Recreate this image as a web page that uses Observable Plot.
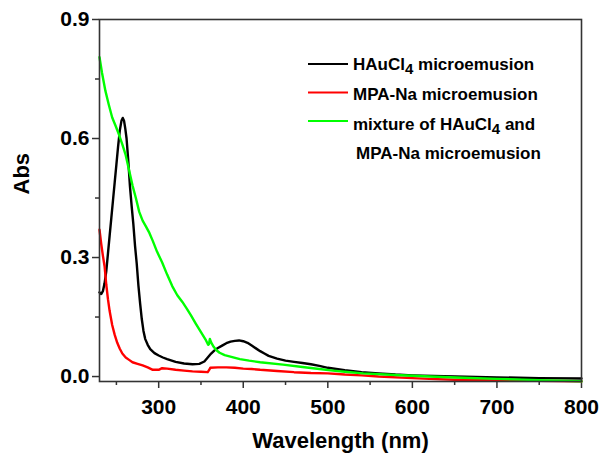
<!DOCTYPE html>
<html><head><meta charset="utf-8">
<script src="https://cdn.jsdelivr.net/npm/d3@7"></script>
<script src="https://cdn.jsdelivr.net/npm/@observablehq/plot@0.6"></script>
<style>body{margin:0;background:#fff}</style>
</head><body><div id="chart"></div>
<script>
// ---- data ----
const seriesNames = ["HAuCl4 microemusion", "MPA-Na microemusion", "mixture of HAuCl4 and MPA-Na microemusion"];
const seriesColors = ["#000000", "#ff0000", "#00ff00"];

const hauclWl  = [230,232,234,236,238,240,242,244,246,248,250,252,254,256,257.5,259,260.5,262,264,266,268,270,272,274,276,278,280,282,284,287,290,295,300,305,310,320,330,340,348,354,358,362,366,370,375,380,385,390,395,400,405,410,415,420,425,430,440,450,460,470,480,490,500,520,540,560,580,600,650,700,750,800];
const hauclAbs = [0.212,0.208,0.215,0.235,0.265,0.31,0.355,0.40,0.445,0.49,0.535,0.58,0.62,0.645,0.652,0.645,0.625,0.60,0.545,0.48,0.43,0.385,0.33,0.285,0.23,0.185,0.145,0.115,0.095,0.08,0.069,0.059,0.053,0.048,0.044,0.037,0.033,0.031,0.032,0.038,0.048,0.058,0.066,0.072,0.078,0.084,0.088,0.090,0.091,0.089,0.085,0.078,0.071,0.064,0.058,0.052,0.045,0.040,0.037,0.034,0.031,0.027,0.022,0.016,0.011,0.008,0.005,0.003,0.0,-0.002,-0.004,-0.005];

const mpaWl  = [230,232,234,236,238,240,242,245,248,251,254,257,261,265,269,275,281,287,293,300,304,310,320,330,340,350,358,359.5,361,370,380,390,400,410,420,440,460,480,500,520,540,560,600,620,650,700,750,800];
const mpaAbs = [0.37,0.335,0.305,0.278,0.232,0.195,0.165,0.13,0.105,0.085,0.07,0.058,0.048,0.042,0.036,0.032,0.028,0.023,0.017,0.017,0.021,0.020,0.017,0.015,0.013,0.012,0.011,0.016,0.022,0.023,0.023,0.022,0.020,0.019,0.017,0.014,0.011,0.009,0.008,0.005,0.003,0.0,-0.004,-0.006,-0.008,-0.010,-0.011,-0.012];

const mixWl  = [230,233,237,241,245,249,253,257,261,265,269,273,277,281,285,289,293,298,304,310,316,322,328,333,338,344,350,356,358.5,359.5,360.5,362,365,368,372,378,387,396,407,420,447,470,490,506,520,542,580,621,660,700,750,800];
const mixAbs = [0.805,0.765,0.72,0.685,0.653,0.632,0.61,0.585,0.558,0.52,0.482,0.45,0.415,0.393,0.378,0.362,0.342,0.315,0.288,0.257,0.228,0.205,0.188,0.172,0.155,0.133,0.112,0.091,0.08,0.082,0.095,0.086,0.075,0.067,0.060,0.054,0.049,0.044,0.040,0.036,0.030,0.024,0.019,0.015,0.012,0.008,0.004,0.0,-0.003,-0.006,-0.009,-0.012];

const xMajor = [300,400,500,600,700,800];
const xMinor = [250,350,450,550,650,750];
const yMajor = [0, 0.3, 0.6, 0.9];
const yMinor = [0.15, 0.45, 0.75];
const xTitle = "Wavelength (nm)";
const yTitle = "Abs";

// ---- build rows ----
const toRows = (name, wl, ab) => wl.map((w, i) => ({series: name, wl: w, abs: ab[i]}));
const rows = [
  ...toRows(seriesNames[0], hauclWl, hauclAbs),
  ...toRows(seriesNames[1], mpaWl, mpaAbs),
  ...toRows(seriesNames[2], mixWl, mixAbs)
];

const FONT = "'Liberation Sans', Arial, Helvetica, sans-serif";
const axisStroke = "#333";

const chart = Plot.plot({
  width: 601, height: 454,
  marginLeft: 99, marginRight: 20, marginTop: 19, marginBottom: 73,
  style: {fontFamily: FONT, fontWeight: "bold", fontSize: "21px", color: "#000", background: "#fff", overflow: "visible"},
  x: {domain: [230, 800], label: null},
  y: {domain: [-0.0125, 0.9], label: null},
  color: {domain: seriesNames, range: seriesColors},
  marks: [
    Plot.axisX({ticks: xMajor, tickSize: 7, tickPadding: 11, tickFormat: d => String(d), label: null, stroke: axisStroke, strokeWidth: 1.5, fill: "#000", fontSize: 21, fontWeight: "bold"}),
    Plot.axisX({ticks: xMinor, tickSize: 4, label: null, stroke: axisStroke, strokeWidth: 1.5, fill: "none"}),
    Plot.axisY({ticks: yMajor, tickSize: 7, tickPadding: 3, tickFormat: d3.format(".1f"), label: null, stroke: axisStroke, strokeWidth: 1.5, fill: "#000", fontSize: 21, fontWeight: "bold"}),
    Plot.axisY({ticks: yMinor, tickSize: 4, label: null, stroke: axisStroke, strokeWidth: 1.5, fill: "none"}),
    Plot.line(rows, {x: "wl", y: "abs", stroke: "series", z: "series", strokeWidth: 2.4, curve: "linear"}),
    Plot.frame({stroke: axisStroke, strokeWidth: 1.6}),
    Plot.text([xTitle], {frameAnchor: "bottom", lineAnchor: "bottom", dy: 66, fontSize: 22, fontWeight: "bold", fill: "#000"}),
    Plot.text([yTitle], {frameAnchor: "left", rotate: -90, dx: -78, dy: -6, fontSize: 22, fontWeight: "bold", fill: "#000"})
  ]
});
document.getElementById("chart").appendChild(chart);

// ---- legend (inside the frame, upper right) ----
const svg = d3.select(chart);
const lg = svg.append("g")
  .attr("font-family", FONT).attr("font-weight", "bold").attr("font-size", 17)
  .attr("fill", "#000").attr("text-anchor", "start");
const legendItems = [
  {color: seriesColors[0], lineY: 64, lines: [[["HAuCl", 0], ["4", 1], [" microemusion", 0]]]},
  {color: seriesColors[1], lineY: 92.5, lines: [[["MPA-Na microemusion", 0]]]},
  {color: seriesColors[2], lineY: 121, lines: [[["mixture of HAuCl", 0], ["4", 1], [" and", 0]], [["MPA-Na microemusion", 0]]]}
];
const textBaselines = [[70.2], [100.3], [129.7, 159.3]];
legendItems.forEach((item, i) => {
  lg.append("line").attr("x1", 308).attr("x2", 348).attr("y1", item.lineY).attr("y2", item.lineY)
    .attr("stroke", item.color).attr("stroke-width", 2.2);
  item.lines.forEach((parts, j) => {
    const t = lg.append("text").attr("x", j === 0 ? 353 : 356).attr("y", textBaselines[i][j]);
    parts.forEach(([s, sub]) => {
      const ts = t.append("tspan").text(s);
      if (sub) ts.attr("font-size", 15).attr("dy", 4);
      else if (t.selectAll("tspan").size() > 1) ts.attr("dy", -4);
    });
  });
});
</script>
</body></html>
